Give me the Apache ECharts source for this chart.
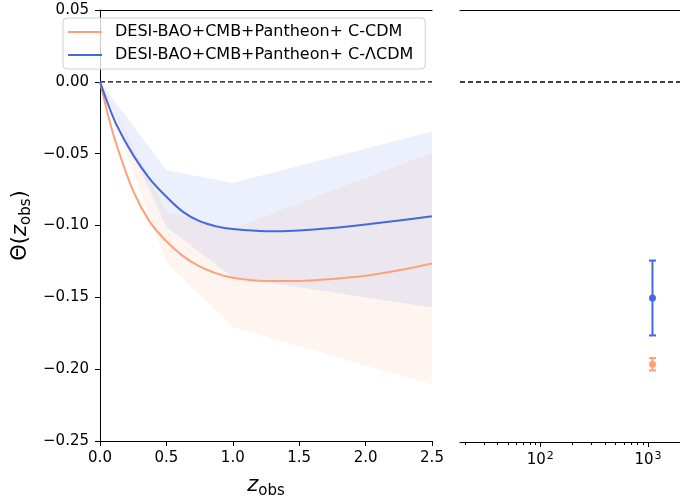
<!DOCTYPE html>
<html>
<head>
<meta charset="utf-8">
<script src="https://cdn.jsdelivr.net/npm/echarts@6/dist/echarts.min.js"></script>
<style>
html, body { margin: 0; padding: 0; background: #fff; }
#main { width: 680px; height: 504px; }
</style>
</head>
<body>
<div id="main"></div>
<script>
// redshift grid for the curves
var zCurve = [0, 0.0625, 0.125, 0.25, 0.375, 0.5, 0.625, 0.75, 0.875, 1.0, 1.25, 1.5, 1.75, 2.0, 2.25, 2.5];
var thetaCDM = [0, -0.024, -0.0440, -0.0760, -0.0975, -0.1110, -0.1213, -0.1285, -0.1333, -0.1363, -0.1386, -0.1386, -0.1372, -0.1350, -0.1312, -0.1264];
var thetaLCDM = [0, -0.0160, -0.0300, -0.0510, -0.0675, -0.0800, -0.0905, -0.0970, -0.1006, -0.1025, -0.1040, -0.1034, -0.1017, -0.0993, -0.0966, -0.0935];

// 1-sigma bands
var zBand = [0, 0.5, 1.0, 2.5];
var cdmUpper = [0, -0.0905, -0.1021, -0.0493];
var cdmLower = [0, -0.1255, -0.1708, -0.2107];
var lcdmUpper = [0, -0.0616, -0.0704, -0.0345];
var lcdmLower = [0, -0.101, -0.136, -0.157];

// CMB point
var zCMB = 1100;
var cmbCDM = [-0.196, 0.0043];
var cmbLCDM = [-0.150, 0.026];

var zLeft = [0, 2.5];
var zRight = [18, 1980];
var logMajorTicks = [100, 1000];
var logMinorTicks = [20, 30, 40, 50, 60, 70, 80, 90, 200, 300, 400, 500, 600, 700, 800, 900];

var nameCDM = 'DESI-BAO+CMB+Pantheon+ C-CDM';
var nameLCDM = 'DESI-BAO+CMB+Pantheon+ C-ΛCDM';

var orange = '#FFA07A';
var blue = '#4169E1';
var font = 'DejaVu Sans';

function pairs(xs, ys) {
    var out = [];
    for (var i = 0; i < xs.length; i++) out.push([xs[i], ys[i]]);
    return out;
}

function bandSeries(upper, lower, fill) {
    var data = [];
    for (var i = 0; i < zBand.length; i++) data.push([zBand[i], upper[i], lower[i]]);
    return {
        type: 'custom',
        xAxisIndex: 0,
        yAxisIndex: 0,
        silent: true,
        clip: true,
        data: data,
        encode: { x: 0, y: [1, 2] },
        renderItem: function (params, api) {
            if (params.dataIndex !== 0) return null;
            var pts = [];
            for (var i = 0; i < data.length; i++) pts.push(api.coord([data[i][0], data[i][1]]));
            for (var j = data.length - 1; j >= 0; j--) pts.push(api.coord([data[j][0], data[j][2]]));
            return { type: 'polygon', shape: { points: pts }, style: { fill: fill } };
        },
        z: 1
    };
}

function errorSeries(name, v, color) {
    return {
        name: name + ' cmb',
        type: 'custom',
        xAxisIndex: 2,
        yAxisIndex: 1,
        silent: true,
        itemStyle: { color: color },
        data: [[zCMB, v[0], v[1]]],
        encode: { x: 0, y: 1 },
        renderItem: function (params, api) {
            var x = api.value(0), y = api.value(1), e = api.value(2);
            var top = api.coord([x, y + e]);
            var bot = api.coord([x, y - e]);
            var mid = api.coord([x, y]);
            var st = { stroke: color, lineWidth: 2 };
            return {
                type: 'group',
                children: [
                    { type: 'line', shape: { x1: top[0], y1: top[1], x2: bot[0], y2: bot[1] }, style: st },
                    { type: 'line', shape: { x1: top[0] - 3.5, y1: top[1], x2: top[0] + 3.5, y2: top[1] }, style: st },
                    { type: 'line', shape: { x1: bot[0] - 3.5, y1: bot[1], x2: bot[0] + 3.5, y2: bot[1] }, style: st },
                    { type: 'circle', shape: { cx: mid[0], cy: mid[1], r: 3.5 }, style: { fill: color } }
                ]
            };
        },
        z: 5
    };
}

function zeroSeries(xs, xi, yi) {
    return {
        type: 'line',
        xAxisIndex: xi,
        yAxisIndex: yi,
        data: pairs(xs, [0, 0]),
        showSymbol: false,
        silent: true,
        lineStyle: { color: '#000', type: [5, 3], width: 1.3 },
        z: 2
    };
}

var mathRich = {
    n: { fontFamily: font, fontSize: 21, color: '#000' },
    i: { fontFamily: font, fontStyle: 'italic', fontSize: 21, color: '#000' },
    s: { fontFamily: font, fontSize: 15, color: '#000', padding: [11, 0, 0, 0] }
};

var spine = { show: true, onZero: false, lineStyle: { color: '#000', width: 1 } };

var myChart = echarts.init(document.getElementById('main'));

var option = {
    animation: false,
    backgroundColor: '#fff',
    grid: [
        { left: 100, top: 10, width: 332, height: 432 },
        { left: 460, top: 10, width: 220, height: 432 }
    ],
    legend: {
        left: 63,
        top: 18,
        orient: 'vertical',
        icon: 'rect',
        itemWidth: 34,
        itemHeight: 2,
        itemGap: 5,
        padding: [5, 12, 5, 5],
        backgroundColor: 'rgba(255,255,255,0.8)',
        borderColor: '#d0d0d0',
        borderWidth: 1,
        borderRadius: 4,
        textStyle: { fontFamily: font, fontSize: 16, color: '#000', padding: [0, 0, 0, 8], lineHeight: 18 },
        data: [nameCDM, nameLCDM]
    },
    xAxis: [
        {
            gridIndex: 0,
            type: 'value',
            position: 'bottom',
            min: 0,
            max: 2.5,
            interval: 0.5,
            name: '{i|z}{s|obs}',
            nameLocation: 'middle',
            nameGap: 32,
            nameTextStyle: { rich: mathRich },
            axisLine: spine,
            axisTick: { length: 5, lineStyle: { color: '#000' } },
            axisLabel: {
                margin: 10, fontFamily: font, fontSize: 15, color: '#000',
                formatter: function (v) { return v.toFixed(1); }
            },
            splitLine: { show: false }
        },
        {
            gridIndex: 0,
            type: 'value',
            position: 'top',
            min: 0,
            max: 2.5,
            axisLine: spine,
            axisTick: { show: false },
            axisLabel: { show: false },
            splitLine: { show: false }
        },
        {
            gridIndex: 1,
            type: 'log',
            logBase: 10,
            position: 'bottom',
            min: 18,
            max: 1980,
            axisLine: spine,
            axisTick: { length: 5, customValues: logMajorTicks, lineStyle: { color: '#000' } },
            axisLabel: {
                margin: 9, color: '#000',
                customValues: logMajorTicks,
                formatter: function (v) { return '{b|10}{p|' + Math.round(Math.log10(v)) + '}'; },
                rich: {
                    b: { fontFamily: font, fontSize: 15, color: '#000' },
                    p: { fontFamily: font, fontSize: 11, color: '#000', padding: [0, 0, 8, 1] }
                }
            },
            minorTick: { show: false },
            splitLine: { show: false }
        },
        {
            gridIndex: 1,
            type: 'log',
            logBase: 10,
            position: 'bottom',
            offset: 0,
            min: 18,
            max: 1980,
            axisLine: { show: false, onZero: false },
            axisTick: { length: 3, customValues: logMinorTicks, lineStyle: { color: '#000' } },
            axisLabel: { show: false },
            splitLine: { show: false }
        },
        {
            gridIndex: 1,
            type: 'log',
            logBase: 10,
            position: 'top',
            min: 18,
            max: 1980,
            axisLine: spine,
            axisTick: { show: false },
            axisLabel: { show: false },
            splitLine: { show: false }
        }
    ],
    yAxis: [
        {
            gridIndex: 0,
            type: 'value',
            min: -0.25,
            max: 0.05,
            interval: 0.05,
            name: '{n|Θ(}{i|z}{s|obs}{n|)}',
            nameLocation: 'middle',
            nameGap: 66,
            nameTextStyle: { rich: mathRich },
            axisLine: spine,
            axisTick: { show: true, length: 5, lineStyle: { color: '#000' } },
            axisLabel: {
                margin: 11, fontFamily: font, fontSize: 15, color: '#000',
                formatter: function (v) { return (v < 0 ? '\u2212' : '') + Math.abs(v).toFixed(2); }
            },
            splitLine: { show: false }
        },
        {
            gridIndex: 1,
            type: 'value',
            min: -0.25,
            max: 0.05,
            interval: 0.05,
            axisLine: { show: false, onZero: false },
            axisTick: { show: false },
            axisLabel: { show: false },
            splitLine: { show: false }
        }
    ],
    series: [
        bandSeries(cdmUpper, cdmLower, 'rgba(255,160,122,0.11)'),
        bandSeries(lcdmUpper, lcdmLower, 'rgba(65,105,225,0.1)'),
        zeroSeries(zLeft, 0, 0),
        zeroSeries(zRight, 2, 1),
        {
            name: nameCDM,
            type: 'line',
            xAxisIndex: 0,
            yAxisIndex: 0,
            data: pairs(zCurve, thetaCDM),
            smooth: 0.3,
            showSymbol: false,
            color: orange,
            lineStyle: { color: orange, width: 2 },
            z: 3
        },
        {
            name: nameLCDM,
            type: 'line',
            xAxisIndex: 0,
            yAxisIndex: 0,
            data: pairs(zCurve, thetaLCDM),
            smooth: 0.3,
            showSymbol: false,
            color: blue,
            lineStyle: { color: blue, width: 2 },
            z: 4
        },
        errorSeries(nameCDM, cmbCDM, orange),
        errorSeries(nameLCDM, cmbLCDM, blue)
    ]
};

myChart.setOption(option);
</script>
</body>
</html>
